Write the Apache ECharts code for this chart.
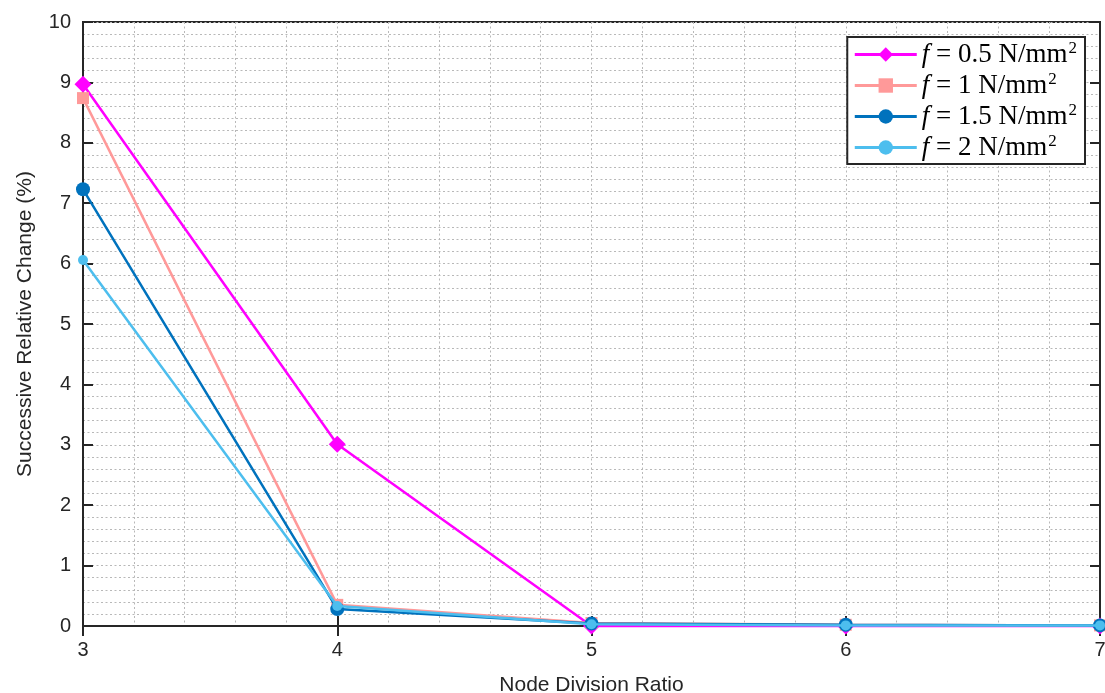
<!DOCTYPE html>
<html><head><meta charset="utf-8">
<script src="https://cdn.jsdelivr.net/npm/echarts@6/dist/echarts.min.js"></script>
<style>html,body{margin:0;padding:0;background:#fff}#c{width:1105px;height:693px}</style>
</head><body><div id="c"></div>
<script>
const ratios = [3, 4, 5, 6, 7];
const f05 = [8.97, 3.01, 0.00, 0.00, 0.00];
const f10 = [8.74, 0.35, 0.05, 0.02, 0.01];
const f15 = [7.23, 0.28, 0.04, 0.02, 0.01];
const f20 = [6.06, 0.33, 0.03, 0.01, 0.01];
const seriesNames = ['0.5', '1', '1.5', '2'];
const seriesColors = ['#FF00FF', '#FF9999', '#0072BD', '#4DBEEE'];
const seriesSymbols = ['diamond', 'rect', 'circle', 'circle'];
const seriesSizes = [17, 12, 14, 10];
const seriesData = [f05, f10, f15, f20];
const xName = 'Node Division Ratio';
const yName = 'Successive Relative Change (%)';

const chart = echarts.init(document.getElementById('c'), null, {renderer: 'canvas'});
const font = '"Liberation Sans", Arial, sans-serif';
const axisColor = '#262626';
const gridLine = {show: true, lineStyle: {color: '#b8b8b8', type: [2, 2.5], width: 1}};
const series = seriesNames.map((n, i) => ({
  name: n, type: 'line',
  data: ratios.map((x, j) => [x, seriesData[i][j]]),
  symbol: seriesSymbols[i], symbolSize: seriesSizes[i],
  lineStyle: {color: seriesColors[i], width: 2.5},
  itemStyle: {color: seriesColors[i]},
  showSymbol: true, z: 2 + i, clip: false
}));
const option = {
  backgroundColor: '#fff',
  animation: false,
  grid: {left: 83, right: 5, top: 22, bottom: 67, outerBoundsMode: 'none', containLabel: false,
         show: true, borderColor: axisColor, borderWidth: 2, backgroundColor: 'transparent'},
  legend: {
    data: seriesNames, orient: 'vertical', right: 20, top: 37,
    backgroundColor: '#fff', borderColor: axisColor, borderWidth: 2,
    padding: [3, 8, 3, 6], itemGap: 3, itemWidth: 62, itemHeight: 18,
    lineStyle: {width: 3},
    formatter: n => '{i|f}{t| = ' + n + ' N/mm}{s|2}',
    textStyle: {
      rich: {
        i: {fontFamily: '"Liberation Serif", serif', fontStyle: 'italic', fontSize: 27, color: '#000', height: 28},
        t: {fontFamily: '"Liberation Serif", serif', fontSize: 27, color: '#000', height: 28},
        s: {fontFamily: '"Liberation Serif", serif', fontSize: 17, color: '#000', verticalAlign: 'top', padding: [0, 0, 12, 1]}
      }
    }
  },
  xAxis: [{
    type: 'value', min: 3, max: 7, interval: 1,
    name: xName, nameLocation: 'middle', nameGap: 49,
    nameTextStyle: {fontFamily: font, fontSize: 21, color: axisColor},
    axisLine: {show: true, onZero: false, lineStyle: {color: axisColor, width: 2}},
    axisTick: {show: true, inside: true, length: 10, lineStyle: {color: axisColor, width: 2}},
    axisLabel: {fontFamily: font, fontSize: 20, color: axisColor, margin: 14},
    splitLine: gridLine,
    minorTick: {show: false, splitNumber: 5},
    minorSplitLine: gridLine
  }, {
    type: 'value', min: 3, max: 7, interval: 1, position: 'top',
    axisLine: {show: true, lineStyle: {color: axisColor, width: 2}},
    axisTick: {show: true, inside: true, length: 10, lineStyle: {color: axisColor, width: 2}},
    axisLabel: {show: false}, splitLine: {show: false}
  }],
  yAxis: [{
    type: 'value', min: 0, max: 10, interval: 1,
    name: yName, nameLocation: 'middle', nameGap: 47,
    nameTextStyle: {fontFamily: font, fontSize: 21, color: axisColor},
    axisLine: {show: true, onZero: false, lineStyle: {color: axisColor, width: 2}},
    axisTick: {show: true, inside: true, length: 10, lineStyle: {color: axisColor, width: 2}},
    axisLabel: {fontFamily: font, fontSize: 20, color: axisColor, margin: 12},
    splitLine: gridLine,
    minorTick: {show: false, splitNumber: 5},
    minorSplitLine: gridLine
  }, {
    type: 'value', min: 0, max: 10, interval: 1, position: 'right',
    axisLine: {show: true, lineStyle: {color: axisColor, width: 2}},
    axisTick: {show: true, inside: true, length: 10, lineStyle: {color: axisColor, width: 2}},
    axisLabel: {show: false}, splitLine: {show: false}
  }],
  series: series
};
chart.setOption(option);
</script></body></html>
